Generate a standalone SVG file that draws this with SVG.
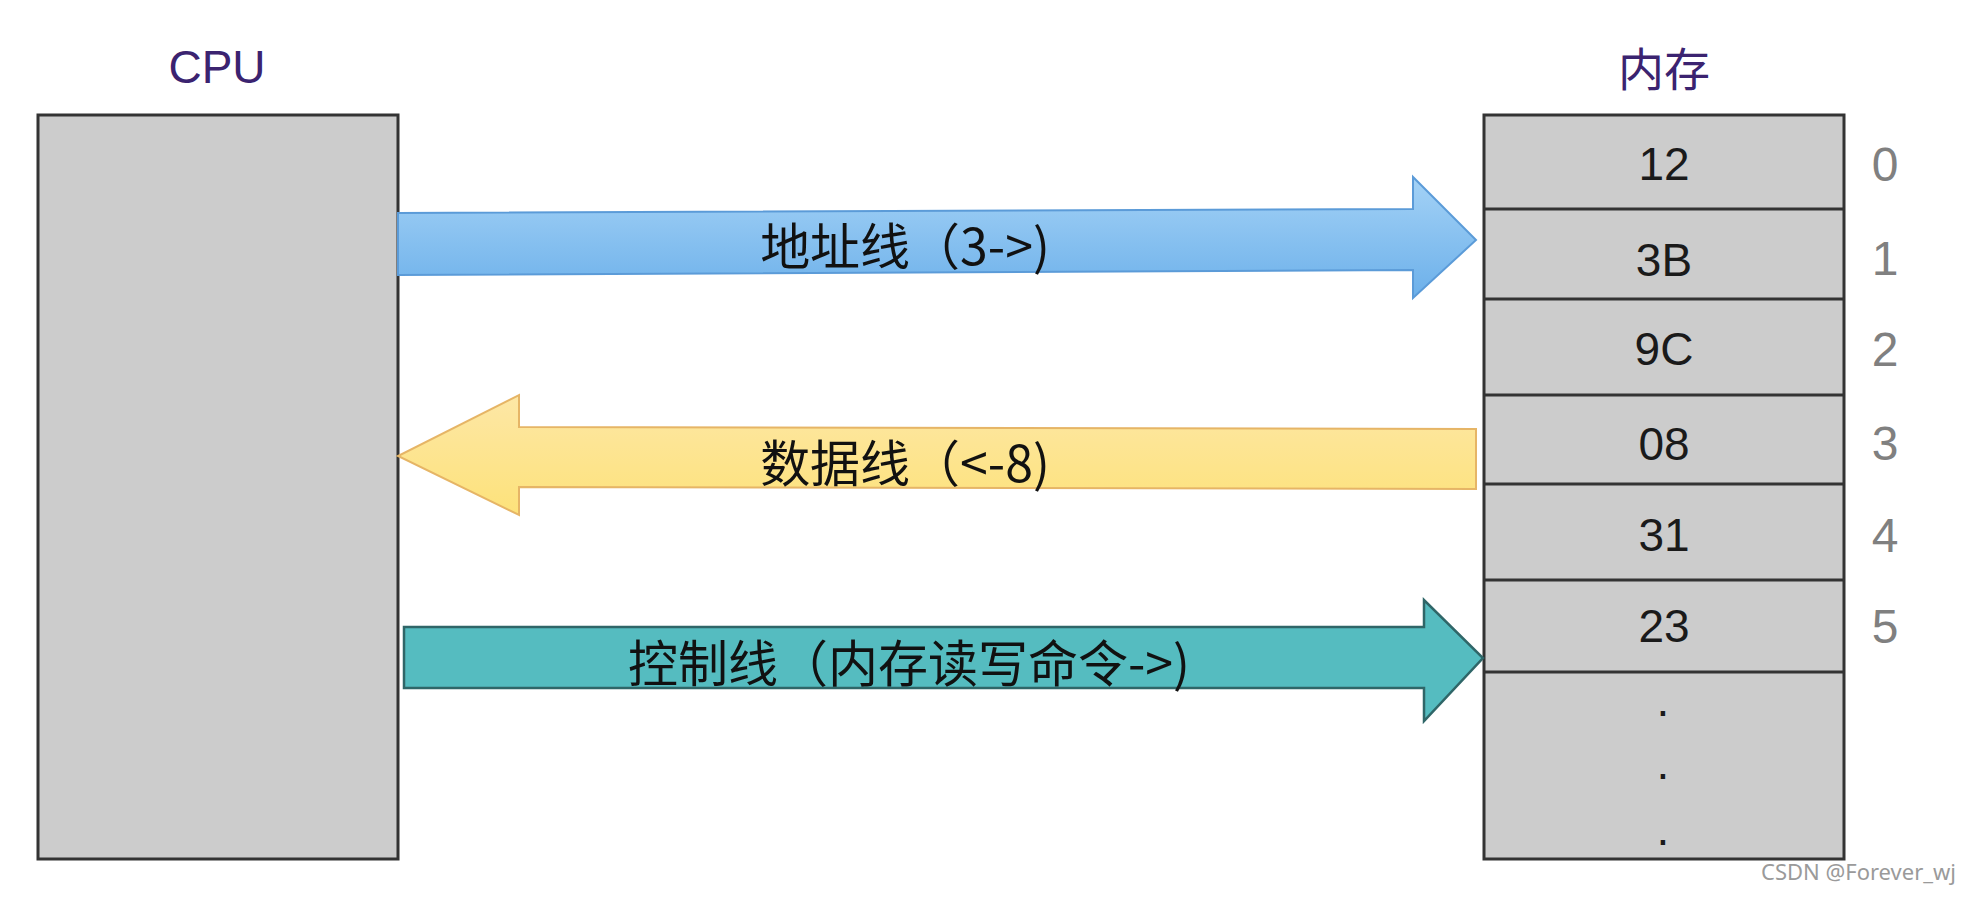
<svg xmlns="http://www.w3.org/2000/svg" width="1978" height="900" viewBox="0 0 1978 900">
<defs>
<linearGradient id="gBlue" x1="0" y1="0" x2="0" y2="1"><stop offset="0" stop-color="#a4d2f6"/><stop offset="1" stop-color="#6cb0ea"/></linearGradient>
<linearGradient id="gYellow" x1="0" y1="0" x2="0" y2="1"><stop offset="0" stop-color="#fde7a6"/><stop offset="1" stop-color="#fde27a"/></linearGradient>
<style>
.box{fill:#cccccc;stroke:#333333;stroke-width:3}
.line{stroke:#333333;stroke-width:3}
.title{font-family:"Liberation Sans","Noto Sans CJK SC",sans-serif;font-size:46px;fill:#3b2370;text-anchor:middle}
.val{font-family:"Liberation Sans",Arial,sans-serif;font-size:46px;fill:#1a1a1a;text-anchor:middle;dominant-baseline:central}
.idx{font-family:"Liberation Sans",Arial,sans-serif;font-size:48px;fill:#808080;text-anchor:middle;dominant-baseline:central}
.lbl{font-family:"Noto Sans CJK SC","Liberation Sans",sans-serif;font-size:50px;fill:#111111;text-anchor:middle;dominant-baseline:central}
.wm{font-family:"Noto Sans","Liberation Sans",sans-serif;font-size:22px;fill:#9a9a9a;text-anchor:end}
</style>
</defs>
<rect width="1978" height="900" fill="#ffffff"/>

<g id="cpu">
<text class="title" x="217" y="83">CPU</text>
<rect class="box" x="38" y="115" width="360" height="744"/>
</g>

<g id="memory">
<text class="title" x="1664" y="86">内存</text>
<rect class="box" x="1484" y="115" width="360" height="744"/>
<line class="line" x1="1484" y1="209" x2="1844" y2="209"/>
<line class="line" x1="1484" y1="299" x2="1844" y2="299"/>
<line class="line" x1="1484" y1="395" x2="1844" y2="395"/>
<line class="line" x1="1484" y1="484" x2="1844" y2="484"/>
<line class="line" x1="1484" y1="580" x2="1844" y2="580"/>
<line class="line" x1="1484" y1="672" x2="1844" y2="672"/>
<text class="val" x="1664" y="164">12</text>
<text class="val" x="1664" y="260">3B</text>
<text class="val" x="1664" y="349">9C</text>
<text class="val" x="1664" y="444">08</text>
<text class="val" x="1664" y="535">31</text>
<text class="val" x="1664" y="626">23</text>
<text class="val" x="1663" y="700">.</text>
<text class="val" x="1663" y="763">.</text>
<text class="val" x="1663" y="829">.</text>
<text class="idx" x="1885" y="164">0</text>
<text class="idx" x="1885" y="258">1</text>
<text class="idx" x="1885" y="349">2</text>
<text class="idx" x="1885" y="443">3</text>
<text class="idx" x="1885" y="535">4</text>
<text class="idx" x="1885" y="626">5</text>
</g>

<g id="connectors">
<g id="address-bus">
<polygon points="398,213 1413,209 1413,177 1476,240 1413,298 1413,270 398,275" fill="url(#gBlue)" stroke="#5b9bd8" stroke-width="2"/>
<text class="lbl" x="905" y="243">地址线（3-&gt;)</text>
</g>
<g id="data-bus">
<polygon points="1476,429 519,427 519,395 398,456 519,515 519,487 1476,489" fill="url(#gYellow)" stroke="#e6b566" stroke-width="2"/>
<text class="lbl" x="905" y="460">数据线（&lt;-8)</text>
</g>
<g id="control-bus">
<polygon points="404,627 1424,627 1424,600 1483,658 1424,721 1424,688 404,688" fill="#55bcc0" stroke="#2f6668" stroke-width="2.5"/>
<text class="lbl" x="909" y="660">控制线（内存读写命令-&gt;)</text>
</g>
</g>

<text class="wm" x="1956" y="880">CSDN @Forever_wj</text>
</svg>
